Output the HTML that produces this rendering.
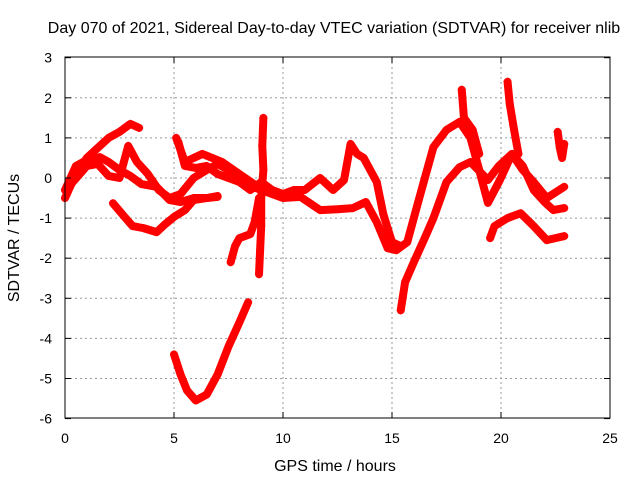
<!DOCTYPE html>
<html><head><meta charset="utf-8"><style>
body{margin:0;background:#fff}
svg text{font-family:"Liberation Sans",sans-serif;font-size:14px;fill:#000}
svg text.big{font-size:16px}
</style></head><body>
<svg id="chart" width="640" height="480" xmlns="http://www.w3.org/2000/svg">
<rect width="640" height="480" fill="#fff"/>
<text class="big" x="334" y="33" text-anchor="middle">Day 070 of 2021, Sidereal Day-to-day VTEC variation (SDTVAR) for receiver nlib</text>
<g id="grid"></g>
<g id="series"></g>
<rect x="65" y="57" width="545" height="361" fill="none" stroke="#000" stroke-width="1"/>
<g id="ticks"></g>
<text class="big" x="335" y="471" text-anchor="middle">GPS time / hours</text>
<text class="big" transform="translate(19,238) rotate(-90)" text-anchor="middle">SDTVAR / TECUs</text>
</svg>
<script>
const xTicks=[0,5,10,15,20,25];
const yTicks=[3,2,1,0,-1,-2,-3,-4,-5,-6];
const s1=[[0,-0.5],[0.5,0.1],[1,0.5],[1.5,0.75],[2,1.0],[2.5,1.15],[3,1.35],[3.4,1.25]];
const s2=[[0,-0.3],[0.5,0.3],[1,0.45],[1.6,0.52],[2,0.4],[2.5,0.2],[3,0.05],[3.5,-0.15],[4.2,-0.22],[4.8,-0.55],[5.3,-0.6],[5.9,-0.5],[6.5,-0.5],[7,-0.45]];
const s3=[[0.2,-0.2],[1,0.3],[1.5,0.35],[2,0.05],[2.5,0.0],[2.9,0.8],[3.3,0.4],[3.8,0.1],[4.3,-0.3],[4.8,-0.5],[5.3,-0.4],[5.9,0],[6.5,0.2],[7,0.35],[7.5,0.2],[8,0.0],[8.5,-0.2],[9,-0.3],[9.5,-0.4],[10,-0.5],[10.8,-0.47],[11.7,-0.8],[12.5,-0.78],[13.2,-0.75],[13.8,-0.6],[14.3,-1.1],[14.8,-1.75],[15.2,-1.8],[15.7,-1.6],[16.2,-0.6],[16.9,0.77],[17.5,1.2],[18.1,1.4],[18.6,1.0],[19.0,0.2],[19.4,-0.62],[19.95,-0.05],[20.5,0.6],[21,0.3],[21.5,-0.3],[22,-0.6],[22.4,-0.8],[22.9,-0.75]];
const s4=[[2.2,-0.63],[2.7,-0.95],[3.1,-1.2],[3.6,-1.25],[4.2,-1.35],[4.6,-1.15],[5.0,-0.97],[5.5,-0.8],[5.9,-0.55],[6.5,-0.5],[7.0,-0.47]];
const s5=[[5.2,0.9],[5.5,0.3],[6,0.25],[6.5,0.3],[7,0.1],[7.5,0.0],[8,-0.1],[8.5,-0.3],[9,-0.1],[9.5,-0.3],[10,-0.4],[10.5,-0.3],[11,-0.3],[11.7,0],[12.3,-0.3],[12.8,-0.05],[13.1,0.85],[13.4,0.6],[13.7,0.5],[14.3,-0.1],[14.6,-0.9],[15,-1.6],[15.4,-1.7]];
const s6=[[5,-4.4],[5.3,-4.9],[5.6,-5.3],[6,-5.55],[6.5,-5.4],[7,-4.9],[7.5,-4.2],[8,-3.6],[8.4,-3.1]];
const s7=[[7.6,-2.1],[7.8,-1.7],[8,-1.5],[8.5,-1.4],[8.7,-1.1],[8.9,-0.5]];
const s8=[[9.1,1.5],[9.05,0.8],[9.1,0.2],[9.0,-0.5],[9.0,-1.2],[8.95,-1.8],[8.9,-2.4]];
const s9=[[15.4,-3.3],[15.6,-2.6],[16,-2.1],[16.5,-1.5],[16.9,-1.0],[17.5,-0.1],[18.1,0.27],[18.6,0.4],[19.4,-0.05],[19.9,0.3],[20.5,0.6],[21,0.2],[21.5,-0.1],[22.1,-0.5],[22.9,-0.22]];
const s10=[[19.5,-1.5],[19.7,-1.2],[20.3,-1.0],[20.9,-0.88],[21.5,-1.2],[22.1,-1.55],[22.9,-1.45]];
const s11=[[18.2,2.2],[18.3,1.5],[18.7,1.2],[19,0.6]];
const s12=[[20.3,2.4],[20.4,1.85],[20.6,1.2],[20.8,0.6]];
const s13=[[22.6,1.15],[22.7,0.75],[22.8,0.5],[22.9,0.85]];
const s14=[[5.1,1.0],[5.5,0.4],[6.3,0.6],[7.2,0.4],[8,0.1],[8.8,-0.2]];
const allSeries=[s1,s2,s3,s4,s5,s6,s7,s8,s9,s10,s11,s12,s13,s14];
const X=h=>65+h*21.8, Y=v=>178-v*40.1;
const NS="http://www.w3.org/2000/svg";
const grid=document.getElementById('grid'),ticks=document.getElementById('ticks'),ser=document.getElementById('series');
function mk(t,a,p){const e=document.createElementNS(NS,t);for(const k in a)e.setAttribute(k,a[k]);p.appendChild(e);return e;}
xTicks.forEach(t=>{const x=X(t);
 if(t>0&&t<25){const g=mk('line',{x1:x,y1:57,x2:x,y2:418,stroke:'#999','stroke-dasharray':'2,3'},grid);
 
 }
 const l=mk('text',{x:x,y:443,'text-anchor':'middle'},ticks);l.textContent=t;
 
 
 mk('line',{x1:x,y1:418,x2:x,y2:412,stroke:'#000'},ticks);mk('line',{x1:x,y1:57,x2:x,y2:63,stroke:'#000'},ticks);});
yTicks.forEach(t=>{const y=Y(t);
 if(t<3&&t>-6){const g=mk('line',{x1:65,y1:y,x2:610,y2:y,stroke:'#999','stroke-dasharray':'2,3'},grid);
 
 }
 const l=mk('text',{x:52,y:y+5,'text-anchor':'end'},ticks);l.textContent=t;
 
 
 mk('line',{x1:65,y1:y,x2:71,y2:y,stroke:'#000'},ticks);mk('line',{x1:610,y1:y,x2:604,y2:y,stroke:'#000'},ticks);});
allSeries.forEach((s,i)=>{
 const pl=mk('polyline',{points:s.map(p=>X(p[0])+','+Y(p[1])).join(' '),fill:'none',stroke:'#f00','stroke-width':8,'stroke-linejoin':'round','stroke-linecap':'round'},ser);
 
 
 s.forEach(p=>{const x=X(p[0]),y=Y(p[1]);
  const m=mk('path',{d:`M${x-4},${y}H${x+4}M${x},${y-4}V${y+4}`,stroke:'#f00','stroke-width':1.2},ser);
  
  });
});
</script>
</body></html>
